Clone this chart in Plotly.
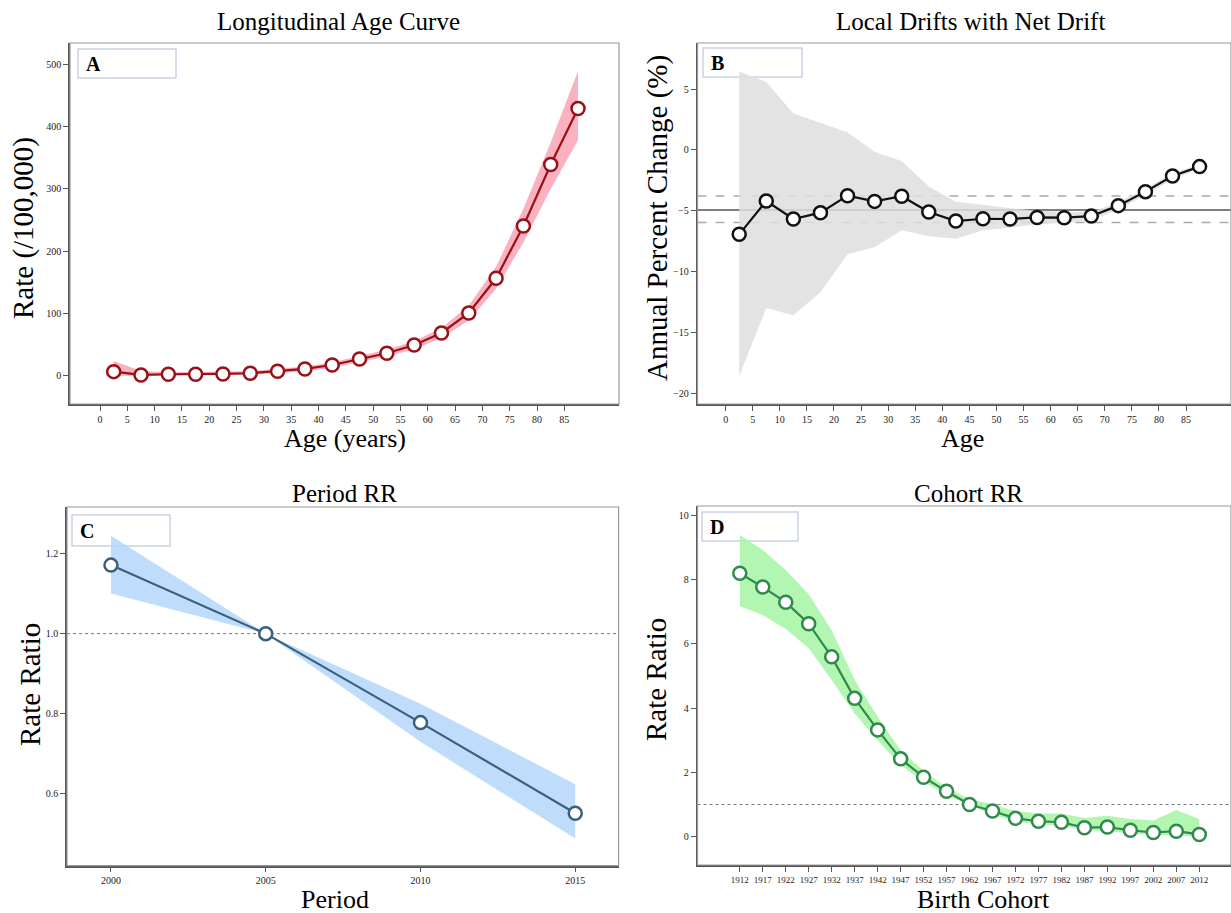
import plotly.graph_objects as go

# ---------------- data ----------------
age = [2.5, 7.5, 12.5, 17.5, 22.5, 27.5, 32.5, 37.5, 42.5, 47.5, 52.5, 57.5, 62.5, 67.5, 72.5, 77.5, 82.5, 87.5]
age_rate = [6.9, 1.6, 2.7, 2.7, 3.2, 4.3, 7.5, 11.2, 17.6, 27.3, 36.4, 49.7, 69, 101, 156.6, 240.6, 339, 429]
age_up = [24, 8, 6, 6, 7, 8, 11, 15, 22, 32, 42, 56, 77, 113, 175, 268, 375, 489]
age_lo = [0, 0.5, 1, 1, 1.5, 2, 4, 7, 13, 22, 31, 43, 61, 89, 140, 214, 300, 378]

drift = [-6.94, -4.2, -5.68, -5.16, -3.76, -4.23, -3.81, -5.1, -5.85, -5.66, -5.68, -5.55, -5.57, -5.44, -4.58, -3.43, -2.14, -1.37]
drift_up = [6.45, 5.6, 3.0, 2.2, 1.45, -0.14, -0.9, -3.0, -4.26, -4.5, -4.8, -5.0, -5.1, -5.1, -4.3, -3.2, -1.9, -1.2]
drift_lo = [-18.6, -13.0, -13.6, -11.7, -8.57, -8.0, -6.6, -7.1, -7.3, -6.6, -6.4, -6.1, -6.0, -5.8, -4.9, -3.7, -2.4, -1.55]
net_drift = -4.94
net_drift_ci = [-5.96, -3.79]

period = [2000, 2005, 2010, 2015]
period_rr = [1.171, 1.0, 0.778, 0.552]
period_up = [1.244, 1.0, 0.825, 0.624]
period_lo = [1.10, 1.0, 0.73, 0.489]

cohort = [1912, 1917, 1922, 1927, 1932, 1937, 1942, 1947, 1952, 1957, 1962, 1967, 1972, 1977, 1982, 1987, 1992, 1997, 2002, 2007, 2012]
cohort_rr = [8.19, 7.76, 7.29, 6.62, 5.59, 4.30, 3.32, 2.42, 1.85, 1.41, 1.0, 0.80, 0.57, 0.48, 0.45, 0.28, 0.30, 0.20, 0.13, 0.17, 0.07]
cohort_up = [9.38, 8.91, 8.29, 7.54, 6.42, 4.87, 3.73, 2.69, 2.05, 1.53, 1.17, 1.0, 0.8, 0.72, 0.72, 0.58, 0.65, 0.55, 0.5, 0.83, 0.55]
cohort_lo = [7.17, 6.89, 6.46, 5.86, 4.87, 3.83, 3.0, 2.23, 1.71, 1.29, 0.98, 0.68, 0.47, 0.39, 0.33, 0.2, 0.18, 0.1, 0.05, 0.05, -0.02]

age_ticks = list(range(0, 90, 5))
reference_rr = 1.0

# ---------------- figure ----------------
W, H = 1231, 913
SERIF = "Liberation Serif, Times New Roman, serif"
fig = go.Figure()

def band(x, lo, up, color, xa, ya):
    fig.add_trace(go.Scatter(x=list(x) + list(x)[::-1], y=list(up) + list(lo)[::-1],
                             fill="toself", fillcolor=color, line=dict(width=0),
                             mode="lines", hoverinfo="skip", showlegend=False,
                             xaxis=xa, yaxis=ya))

def line(x, y, color, xa, ya):
    fig.add_trace(go.Scatter(x=x, y=y, mode="lines+markers",
                             line=dict(color=color, width=2.2),
                             marker=dict(size=13, color="white", line=dict(color=color, width=2.5)),
                             showlegend=False, xaxis=xa, yaxis=ya))

# A
band(age, age_lo, age_up, "rgba(249,165,182,0.85)", "x", "y")
line(age, age_rate, "#9b0f16", "x", "y")
# B
band(age, drift_lo, drift_up, "rgba(222,222,222,0.85)", "x2", "y2")
line(age, drift, "#111111", "x2", "y2")
# C
band(period, period_lo, period_up, "rgba(180,215,250,0.85)", "x3", "y3")
line(period, period_rr, "#3b5f7c", "x3", "y3")
# D
band(cohort, cohort_lo, cohort_up, "rgba(165,245,165,0.85)", "x4", "y4")
line(cohort, cohort_rr, "#2f8a4c", "x4", "y4")

def px_x(a, b):
    return [a / W, b / W]

def px_y(top, bot):
    return [1 - bot / H, 1 - top / H]

tickfont = dict(family=SERIF, size=10, color="#222222")
axcommon = dict(showgrid=False, zeroline=False, showline=True, linecolor="#555555", linewidth=1.5,
                ticks="outside", ticklen=5, tickcolor="#555555", tickfont=tickfont)

fig.update_layout(
    width=W, height=H, margin=dict(l=0, r=0, t=0, b=0),
    paper_bgcolor="white", plot_bgcolor="white", showlegend=False,
    xaxis=dict(domain=px_x(70, 619), range=[-5.5, 95], tickvals=age_ticks, anchor="y", **axcommon),
    yaxis=dict(domain=px_y(43, 404), range=[-45, 534], tickvals=[0, 100, 200, 300, 400, 500], anchor="x", **axcommon),
    xaxis2=dict(domain=px_x(697.5, 1231), range=[-5.2, 93.3], tickvals=age_ticks, anchor="y2", **axcommon),
    yaxis2=dict(domain=px_y(43, 404), range=[-20.9, 8.8], tickvals=[-20, -15, -10, -5, 0, 5], anchor="x2", **axcommon),
    xaxis3=dict(domain=px_x(67, 618.6), range=[1998.58, 2016.4], tickvals=period, anchor="y3", **axcommon),
    yaxis3=dict(domain=px_y(507, 865.7), range=[0.421, 1.316], tickvals=[0.6, 0.8, 1.0, 1.2],
                tickformat=".1f", anchor="x3", **axcommon),
    xaxis4=dict(domain=px_x(697.5, 1231), range=[1902.8, 2018.9], tickvals=cohort, anchor="y4",
                **{**axcommon, "tickfont": dict(family=SERIF, size=9, color="#222222")}),
    yaxis4=dict(domain=px_y(506, 865), range=[-0.88, 10.28], tickvals=[0, 2, 4, 6, 8, 10], anchor="x4", **axcommon),
)

def hline(y, xa, ya, color, width, dash="solid"):
    fig.add_shape(type="line", xref=f"{xa} domain", yref=ya, x0=0, x1=1, y0=y, y1=y,
                  line=dict(color=color, width=width, dash=dash), layer="below")

# reference lines
hline(net_drift, "x2", "y2", "#555555", 1.5)
for v in net_drift_ci:
    hline(v, "x2", "y2", "#aaaaaa", 1.5, "dash")
hline(reference_rr, "x3", "y3", "#777777", 1, "dot")
hline(reference_rr, "x4", "y4", "#777777", 1, "dot")

# frames
panels = [("x", "y"), ("x2", "y2"), ("x3", "y3"), ("x4", "y4")]
for xa, ya in panels:
    fig.add_shape(type="rect", xref=f"{xa} domain", yref=f"{ya} domain", x0=0, x1=1, y0=0, y1=1,
                  line=dict(color="#9a9a9a", width=1.2), fillcolor="rgba(0,0,0,0)", layer="above")

# panel label boxes (pixel geometry relative to each panel)
label_boxes = {"A": (78, 176, 49, 78, "x", "y", 70, 549, 43, 361),
               "B": (703, 802, 48, 77, "x2", "y2", 697.5, 533.5, 43, 361),
               "C": (72, 170, 515, 546, "x3", "y3", 67, 551.6, 507, 358.7),
               "D": (702, 798, 512, 541, "x4", "y4", 697.5, 533.5, 506, 359)}
for lab, (bx0, bx1, by0, by1, xa, ya, ox, ow, oy, oh) in label_boxes.items():
    fig.add_shape(type="rect", xref=f"{xa} domain", yref=f"{ya} domain",
                  x0=(bx0 - ox) / ow, x1=(bx1 - ox) / ow,
                  y0=1 - (by1 - oy) / oh, y1=1 - (by0 - oy) / oh,
                  line=dict(color="#c9d4e2", width=1.5), fillcolor="white", layer="below")
    fig.add_annotation(text=f"<b>{lab}</b>", xref="paper", yref="paper",
                       x=(bx0 + 6) / W, y=1 - ((by0 + by1) / 2) / H, xanchor="left", yanchor="middle",
                       showarrow=False, font=dict(family=SERIF, size=20, color="black"))

def text(t, x, y, size, angle=0):
    fig.add_annotation(text=t, xref="paper", yref="paper", x=x / W, y=1 - y / H,
                       xanchor="center", yanchor="middle", showarrow=False, textangle=angle,
                       font=dict(family=SERIF, size=size, color="black"))

# titles
text("Longitudinal Age Curve", 338, 22, 25)
text("Local Drifts with Net Drift", 970, 22, 25)
text("Period RR", 345, 493, 25)
text("Cohort RR", 968, 493, 25)
# axis titles
text("Rate (/100,000)", 24, 228, 29, -90)
text("Age (years)", 345, 439, 26)
text("Annual Percent Change (%)", 657, 218, 29, -90)
text("Age", 962, 439, 26)
text("Rate Ratio", 30, 685, 29, -90)
text("Period", 335, 899, 26)
text("Rate Ratio", 656, 680, 29, -90)
text("Birth Cohort", 983, 899, 26)

fig.write_html("out.html", config={"displayModeBar": False},
               post_script="document.body.style.margin='0';document.body.style.overflow='hidden';")
